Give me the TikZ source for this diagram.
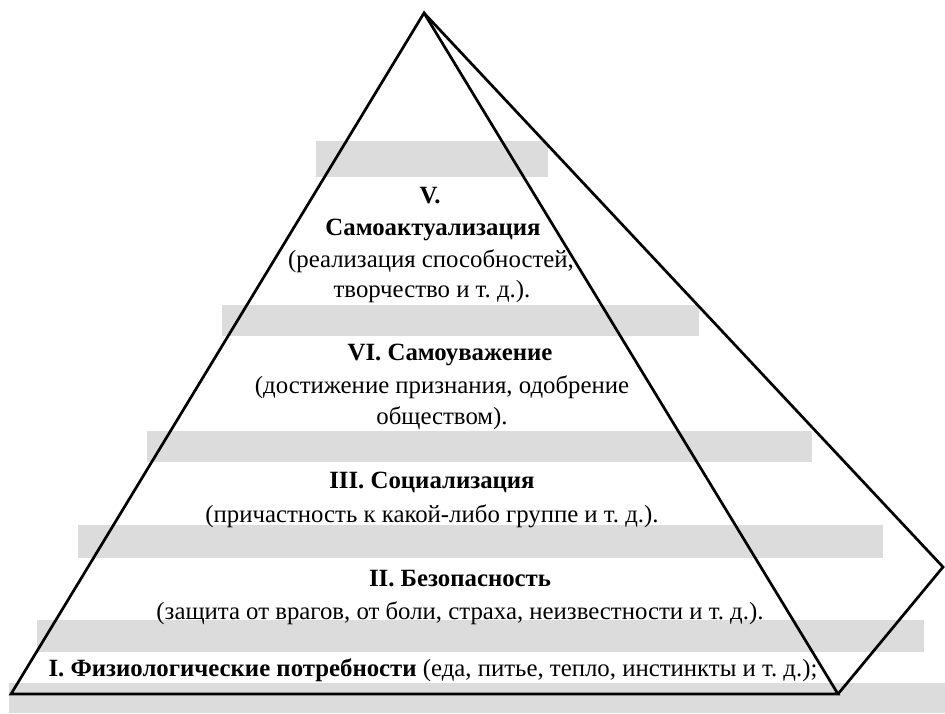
\documentclass[tikz,border=0pt]{standalone}
\usepackage{fontspec}
\setmainfont{Liberation Serif}
\definecolor{bargray}{HTML}{DCDCDC}
\frenchspacing

\begin{document}
\begin{tikzpicture}[x=0.5pt, y=-0.5pt,
    bar/.style={fill=bargray},
    lbl/.style={anchor=base, inner sep=0pt, font=\fontsize{12.4}{15}\selectfont},
    edge/.style={line width=1.35pt, line join=miter}]
      \useasboundingbox (0, 0) rectangle (945, 713);

      \fill[bar] (316, 141) rectangle (548, 177);
      \fill[bar] (222, 305) rectangle (699, 336);
      \fill[bar] (147, 431) rectangle (812, 462);
      \fill[bar] (78, 525) rectangle (883, 558);
      \fill[bar] (37, 620) rectangle (924, 652);
      \fill[bar] (9, 683) rectangle (945, 713);

      \coordinate (top) at (424, 13);
      \coordinate (baseL) at (11, 694);
      \coordinate (baseR) at (838, 694);
      \coordinate (back) at (943, 567);

      \draw[edge] (top) -- (baseL) -- (baseR) -- cycle;
      \draw[edge] (top) -- (back) -- (baseR);

      \node[lbl] (fiveA) at (430, 203) {\textbf{V.}};
      \node[lbl] (fiveB) at (433, 235) {\textbf{Самоактуализация}};
      \node[lbl] (fiveC) at (431, 267) {(реализация способностей,};
      \node[lbl] (fiveD) at (432, 297) {творчество и т. д.).};

      \node[lbl] (fourA) at (450, 360) {\textbf{VI. Самоуважение}};
      \node[lbl] (fourB) at (442, 393) {(достижение признания, одобрение};
      \node[lbl] (fourC) at (442, 424) {обществом).};

      \node[lbl] (threeA) at (432, 488) {\textbf{III. Социализация}};
      \node[lbl] (threeB) at (432, 522) {(причастность к какой-либо группе и т. д.).};

      \node[lbl] (twoA) at (460, 586) {\textbf{II. Безопасность}};
      \node[lbl] (twoB) at (460, 619) {(защита от врагов, от боли, страха, неизвестности и т. д.).};

      \node[lbl] (one) at (433, 676) {\textbf{I. Физиологические потребности} (еда, питье, тепло, инстинкты и т. д.);};
    \end{tikzpicture}
\end{document}
